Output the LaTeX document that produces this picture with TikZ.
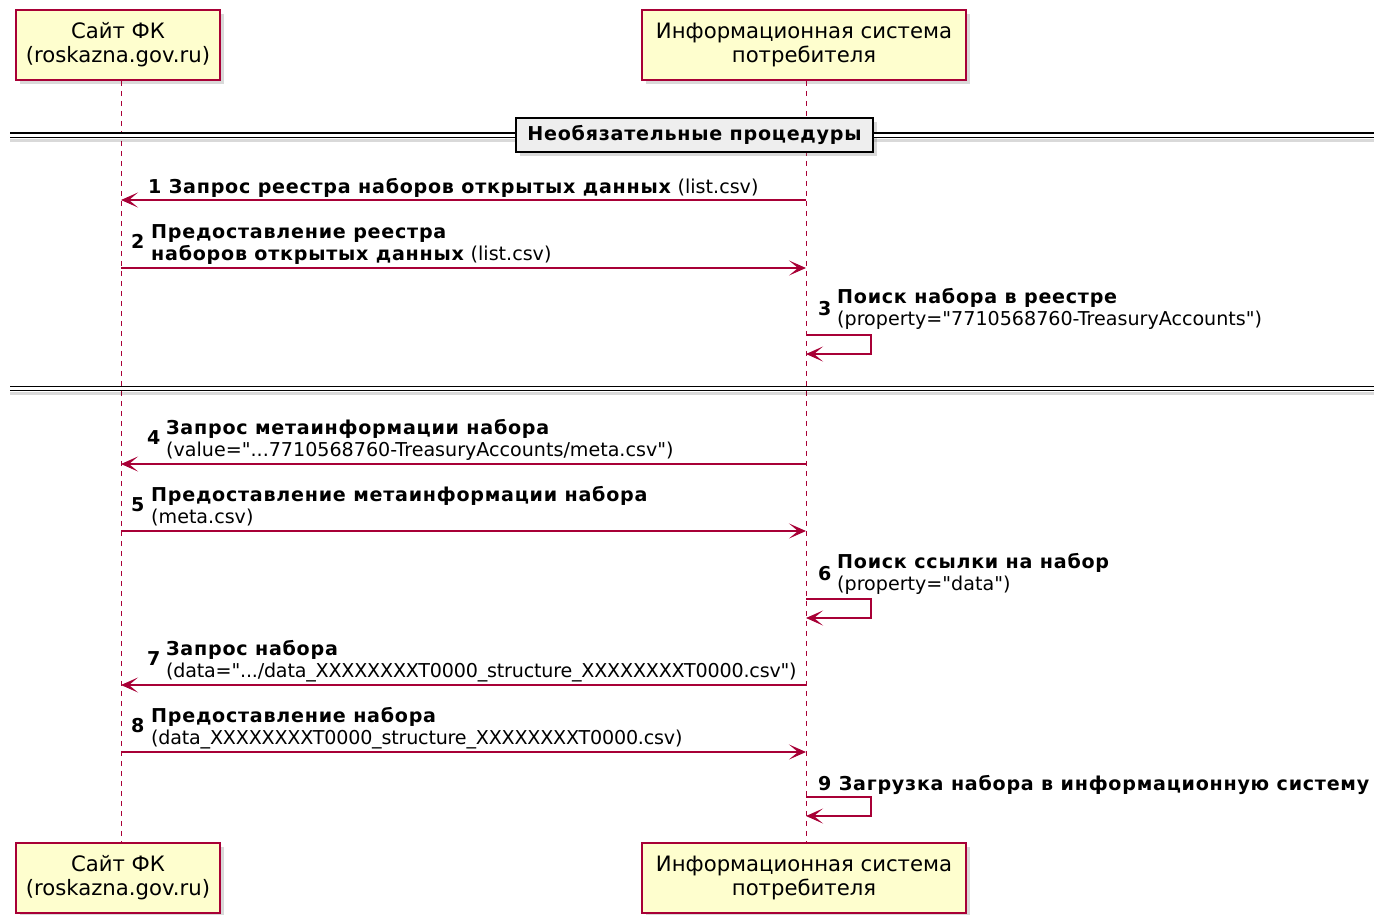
\documentclass[tikz,border=0pt]{standalone}
\usepackage{fontspec}
\setmainfont{DejaVu Sans}[Ligatures=TeXOff, BoldFeatures={LetterSpace=3.9}]
\usetikzlibrary{arrows.meta}
\usetikzlibrary{shadows}
\definecolor{umlred}{HTML}{A80036}
\definecolor{umlbox}{HTML}{FEFECE}
\definecolor{umlgrey}{HTML}{EEEEEE}

\begin{document}
\begin{tikzpicture}[x=1pt, y=-1pt,
	actor/.style={draw=umlred, line width=1.5pt, fill=umlbox, align=center, inner sep=0pt,
		minimum height=70pt, font=\fontsize{21.2}{24}\selectfont,
		drop shadow={shadow xshift=4pt, shadow yshift=-4pt, opacity=0.3}},
	life/.style={umlred, dash pattern=on 5pt off 5pt, line width=1pt},
	msg/.style={umlred, line width=1.3pt, -{Stealth[length=17pt, width=15pt, inset=9pt]}},
	lbl/.style={inner sep=0pt, anchor=base west, font=\fontsize{19.1}{22}\selectfont},
	tight/.style={lbl, font=\fontsize{19.1}{22}\selectfont\addfontfeature{LetterSpace=-1}},
	sep/.style={double, double distance=3pt, line width=1.4pt},
	sepshadow/.style={black, opacity=0.15, line width=3pt},
]
	\useasboundingbox (0,0) rectangle (1374,914);

	% participants
	\node[actor, minimum width=204pt] (site) at (118,45) {Сайт ФК\\(roskazna.gov.ru)};
	\node[actor, minimum width=324pt] (info) at (804,45) {Информационная система\\потребителя};
	\node[actor, minimum width=204pt] (site2) at (118,878) {Сайт ФК\\(roskazna.gov.ru)};
	\node[actor, minimum width=324pt] (info2) at (804,878) {Информационная система\\потребителя};

	\draw[life] ([xshift=3pt]site.south) -- ([xshift=3pt]site2.north);
	\draw[life] ([xshift=2pt]info.south) -- ([xshift=2pt]info2.north);

	% separators
	\coordinate (l1) at (10,135);
	\coordinate (r1) at (1374,135);
	\coordinate (l2) at (10,388.5);
	\coordinate (r2) at (1374,388.5);
	\draw[sepshadow] ([yshift=-5pt]l1) -- ([yshift=-5pt]r1);
	\draw[sepshadow] ([yshift=-5pt]l2) -- ([yshift=-5pt]r2);
	\node[draw, line width=2pt, fill=umlgrey, inner sep=0pt, minimum width=357pt, minimum height=34pt,
		font=\fontsize{19.1}{22}\selectfont\bfseries,
		drop shadow={shadow xshift=4pt, shadow yshift=-4pt, opacity=0.3}] (opt) at (694.5,135) {Необязательные процедуры};
	\draw[sep] (l1) -- (opt.west);
	\draw[sep] (opt.east) -- (r1);
	\draw[sep] (l2) -- (r2);

	% 1
	\coordinate (a1) at (121,200);
	\coordinate (b1) at (806,200);
	\draw[msg] (b1) -- (a1);
	\node[lbl] (t1) at (148,193) {\textbf{1 Запрос реестра наборов открытых данных} (list.csv)};
	% 2
	\coordinate (a2) at (121,268);
	\coordinate (b2) at (806,268);
	\draw[msg] (a2) -- (b2);
	\node[lbl] (n2) at (131,248) {\textbf{2}};
	\node[lbl] (t2a) at (151,238) {\textbf{Предоставление реестра}};
	\node[lbl] (t2b) at (151,260) {\textbf{наборов открытых данных} (list.csv)};
	% 3
	\coordinate (b3) at (806,335);
	\coordinate (c3) at (806,354);
	\draw[msg] (b3) -- ++(65,0) |- (c3);
	\node[lbl] (n3) at (818,315) {\textbf{3}};
	\node[lbl] (t3a) at (837,303) {\textbf{Поиск набора в реестре}};
	\node[lbl] (t3b) at (837,325) {(property="7710568760-TreasuryAccounts")};
	% 4
	\coordinate (a4) at (121,464);
	\coordinate (b4) at (806,464);
	\draw[msg] (b4) -- (a4);
	\node[lbl] (n4) at (147,444) {\textbf{4}};
	\node[lbl] (t4a) at (166,434) {\textbf{Запрос метаинформации набора}};
	\node[lbl] (t4b) at (166,456) {(value="...7710568760-TreasuryAccounts/meta.csv")};
	% 5
	\coordinate (a5) at (121,531);
	\coordinate (b5) at (806,531);
	\draw[msg] (a5) -- (b5);
	\node[lbl] (n5) at (131,511) {\textbf{5}};
	\node[lbl] (t5a) at (151,501) {\textbf{Предоставление метаинформации набора}};
	\node[lbl] (t5b) at (151,523) {(meta.csv)};
	% 6
	\coordinate (b6) at (806,599);
	\coordinate (c6) at (806,618);
	\draw[msg] (b6) -- ++(65,0) |- (c6);
	\node[lbl] (n6) at (818,580) {\textbf{6}};
	\node[lbl] (t6a) at (837,568) {\textbf{Поиск ссылки на набор}};
	\node[lbl] (t6b) at (837,590) {(property="data")};
	% 7
	\coordinate (a7) at (121,685);
	\coordinate (b7) at (806,685);
	\draw[msg] (b7) -- (a7);
	\node[lbl] (n7) at (147,665) {\textbf{7}};
	\node[lbl] (t7a) at (166,655) {\textbf{Запрос набора}};
	\node[tight] (t7b) at (166,677) {(data=".../data\_XXXXXXXXT0000\_structure\_XXXXXXXXT0000.csv")};
	% 8
	\coordinate (a8) at (121,752);
	\coordinate (b8) at (806,752);
	\draw[msg] (a8) -- (b8);
	\node[lbl] (n8) at (131,732) {\textbf{8}};
	\node[lbl] (t8a) at (151,722) {\textbf{Предоставление набора}};
	\node[tight] (t8b) at (151,744) {(data\_XXXXXXXXT0000\_structure\_XXXXXXXXT0000.csv)};
	% 9
	\coordinate (b9) at (806,797);
	\coordinate (c9) at (806,816);
	\draw[msg] (b9) -- ++(65,0) |- (c9);
	\node[lbl] (t9) at (818,790) {\textbf{9 Загрузка набора в информационную систему}};
\end{tikzpicture}
\end{document}
